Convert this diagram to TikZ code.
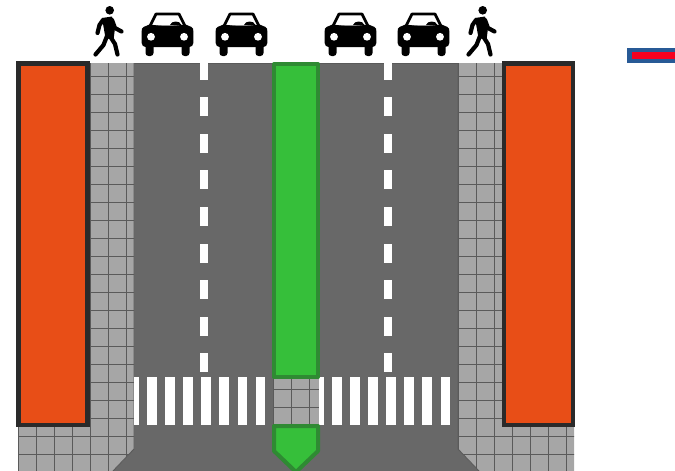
\documentclass[tikz,border=0pt]{standalone}
\definecolor{roadgray}{HTML}{686868}
\definecolor{walkgray}{HTML}{A6A6A6}
\definecolor{gridgray}{HTML}{5A5A5A}
\definecolor{shopred}{HTML}{E84E17}
\definecolor{shopdark}{HTML}{2A2A2A}
\definecolor{islegreen}{HTML}{36BF3A}
\definecolor{isledark}{HTML}{2F8A33}
\definecolor{flagblue}{HTML}{285A96}
\definecolor{flagred}{HTML}{F5001E}
\tikzset{
  shopbox/.style={draw=shopdark,fill=shopred,line width=4.8pt},
  islebox/.style={draw=isledark,fill=islegreen,line width=4pt,line join=round},
  gridline/.style={draw=gridgray,line width=0.7pt},
  limb/.style={draw=black,line width=4.2pt,line cap=round,line join=round}
}
\begin{document}
\begin{tikzpicture}[x=1pt,y=-1pt]
    \useasboundingbox (0,0) rectangle (675,471);
    % carriageway
    \fill[roadgray] (134,63) -- (458,63) -- (458,449) -- (479,471) -- (113,471) -- (134,449) -- cycle;
    \draw[gridgray,line width=0.6pt] (134,63) -- (458,63);
    % pavements
    \foreach \px/\gxa in {90/18, 502/458}
    {
      \begin{scope}
        \ifnum\px=90
          \path[clip] (90,63) -- (134,63) -- (134,449) -- (113,471) -- (18,471) -- (18,427) -- (90,427) -- cycle;
        \else
          \path[clip] (502,63) -- (458,63) -- (458,449) -- (479,471) -- (574,471) -- (574,427) -- (502,427) -- cycle;
        \fi
        \fill[walkgray] (0,60) rectangle (600,471);
        \foreach \gx in {0,...,6} {
          \draw[gridline] (\gxa+18*\gx,60) -- ++(0,411);
        }
        \foreach \gy in {0,...,22} {
          \draw[gridline] (0,76+18*\gy) -- (600,76+18*\gy);
        }
      \end{scope}
    }
    \draw[gridgray,line width=0.9pt] (134,63) -- (134,449) -- (113,471);
    \draw[gridgray,line width=0.9pt] (458,63) -- (458,449) -- (479,471);
    % lane dashes
    \foreach \lx in {199.5,384} {
      \fill[white] (\lx,63) rectangle ++(8,16.5);
      \foreach \ly in {97,133.5,170,207,243.5,280,316.5,353}
        \fill[white] (\lx,\ly) rectangle ++(8,19);
    }
    % zebra
    \foreach \zx in {147,165,183,201,219,237.5,255.5,332,350,368,386,404,422,440.5}
      \fill[white] (\zx,377) rectangle ++(9.5,48);
    \fill[white] (134,377) rectangle (138.5,425);
    \fill[white] (319,377) rectangle (324,425);
    % refuge
    \fill[walkgray] (273,378) rectangle (319,425);
    \foreach \gx in {291.5,309}
      \draw[gridline] (\gx,378) -- (\gx,425);
    \foreach \gy in {389,407}
      \draw[gridline] (273,\gy) -- (319,\gy);
    \draw[gridgray,line width=0.9pt] (273,378) -- (273,425);
    % island
    \draw[islebox] (274,64) rectangle (318,377);
    \path[clip] (0,0) rectangle (675,471);
    \draw[islebox] (274,426) -- (318,426) -- (318,451) -- (296,472) -- (274,451) -- cycle;
    % shops
    \draw[shopbox] (18.5,63.5) rectangle (87.5,425);
    \draw[shopbox] (504,63.5) rectangle (573,425);
    % flag
    \fill[flagblue] (627,48) rectangle (675,63);
    \fill[flagred] (632,52) rectangle (675,59);
    % cars
    \foreach \cx in {167.5,241.5,350.5,423.5}
    {
      \begin{scope}[shift={(\cx,0)}]
        \draw[black,fill=white,line width=2.8pt,line join=round] (-18,27) -- (-11.5,14) -- (11.5,14) -- (18,27) -- cycle;
        \fill[black] (-24,27) to[out=0,in=180] (-18,24.5) to[out=-8,in=188] (18,24.5) to[out=0,in=180] (24,27)
          to[out=0,in=90] (25.8,32) -- (25.8,43) to[out=-90,in=0] (22,47) -- (-22,47) to[out=180,in=-90] (-25.8,43) -- (-25.8,32) to[out=90,in=180] cycle;
        \fill[black, rounded corners=3pt] (-22,44) rectangle (-14,56);
        \fill[black, rounded corners=3pt] (14,44) rectangle (22,56);
        \fill[black] (2.5,25) to[out=70,in=180] (8,21.5) to[out=0,in=110] (14,25) -- cycle;
        \fill[white] (-16.5,36.8) circle (3.9);
        \fill[white] (16.5,36.8) circle (3.9);
      \end{scope}
    }
    % walkers
    \foreach \wx in {0,373}
    {
      \begin{scope}[shift={(\wx,0)}]
        \fill[black] (109.7,10.3) circle (4.3);
        \fill[black,line join=round] (102,18) -- (112,16.5) -- (115,28) -- (113.5,40) -- (105.5,38) -- cycle;
        \draw[limb] (103,20) -- (99.5,25) -- (97.5,33);
        \draw[limb] (112,20) -- (115,28) -- (121.5,31.5);
        \draw[limb] (107,36) -- (103.5,45) -- (95.5,54.5);
        \draw[limb] (110.5,37) -- (115,44) -- (117.5,54.5);
      \end{scope}
    }
  \end{tikzpicture}
\end{document}
